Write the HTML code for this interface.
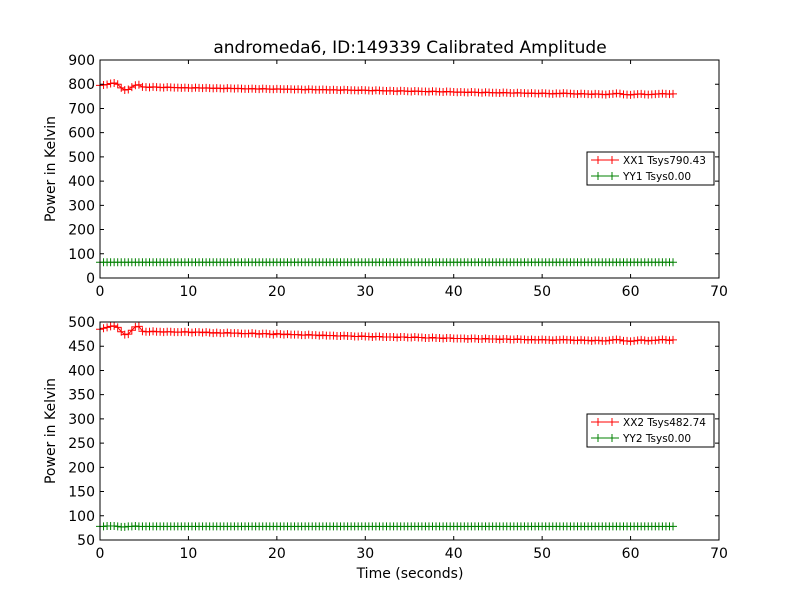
<!DOCTYPE html>
<html><head><meta charset="utf-8"><style>
body{margin:0;background:#fff}
svg text{font-family:"DejaVu Sans","Liberation Sans",sans-serif}
</style></head><body>
<svg id="c" width="800" height="600" xmlns="http://www.w3.org/2000/svg"></svg>
<script>
const xx1=[795,797,799,803,805,800,785,776,778,788,796,798,
789,788,787,789,788,787,786,788,787,786,
786,785,786,785,784,786,785,784,785,784,
783,784,783,782,784,783,782,783,782,781,
781,782,781,780,782,781,780,779,781,780,
779,780,779,778,779,778,777,779,778,777,
777,778,777,776,777,776,775,777,776,775,
775,774,776,775,774,773,775,774,773,772,
773,772,771,773,772,771,770,772,771,770,
770,769,771,770,769,768,770,769,768,767,
768,767,766,768,767,766,765,767,766,765,
765,764,766,765,764,763,765,764,763,762,
763,762,761,763,762,761,760,762,761,763,
762,761,760,759,761,760,759,758,760,759,
758,757,759,760,762,761,758,757,756,758,
759,760,758,757,758,759,760,761,760,759,
760];
const yy1=[65,65,65,65,65,65,65,65,65,65,
65,65,65,65,65,65,65,65,65,65,
65,65,65,65,65,65,65,65,65,65,
65,65,65,65,65,65,65,65,65,65,
65,65,65,65,65,65,65,65,65,65,
65,65,65,65,65,65,65,65,65,65,
65,65,65,65,65,65,65,65,65,65,
65,65,65,65,65,65,65,65,65,65,
65,65,65,65,65,65,65,65,65,65,
65,65,65,65,65,65,65,65,65,65,
65,65,65,65,65,65,65,65,65,65,
65,65,65,65,65,65,65,65,65,65,
65,65,65,65,65,65,65,65,65,65,
65,65,65,65,65,65,65,65,65,65,
65,65,65,65,65,65,65,65,65,65,
65,65,65,65,65,65,65,65,65,65,
65,65,65];
const xx2=[485,487,489,491,492,489,480,474,475,483,490,491,
481,480,480,481,480,480,479,480,480,479,
479,479,480,479,478,479,479,478,479,478,
477,478,477,477,478,477,477,477,476,476,
476,477,476,475,476,476,475,474,476,475,
474,475,474,474,474,473,473,474,473,473,
472,473,472,472,472,471,471,472,471,471,
470,470,471,470,470,469,470,470,469,469,
469,469,468,469,469,468,468,469,468,468,
467,467,468,467,467,466,467,467,466,466,
466,466,465,466,466,465,465,466,465,465,
465,464,465,465,464,464,465,464,464,463,
464,463,463,464,463,463,462,463,463,464,
463,463,462,462,463,462,462,461,462,462,
461,461,462,463,464,463,461,461,460,461,
462,463,462,461,462,462,463,464,463,462,
463];
const yy2=[78,78,79,79,79,78,77,77,78,78,
79,78,78,78,78,78,78,78,78,78,
78,78,78,78,78,78,78,78,78,78,
78,78,78,78,78,78,78,78,78,78,
78,78,78,78,78,78,78,78,78,78,
78,78,78,78,78,78,78,78,78,78,
78,78,78,78,78,78,78,78,78,78,
78,78,78,78,78,78,78,78,78,78,
78,78,78,78,78,78,78,78,78,78,
78,78,78,78,78,78,78,78,78,78,
78,78,78,78,78,78,78,78,78,78,
78,78,78,78,78,78,78,78,78,78,
78,78,78,78,78,78,78,78,78,78,
78,78,78,78,78,78,78,78,78,78,
78,78,78,78,78,78,78,78,78,78,
78,78,78,78,78,78,78,78,78,78,
78,78,78];
const xTicks=[0,10,20,30,40,50,60,70];
const yTicksTop=[0,100,200,300,400,500,600,700,800,900];
const yTicksBot=[50,100,150,200,250,300,350,400,450,500];
const dt=0.4;
const svg=document.getElementById('c');
const NS='http://www.w3.org/2000/svg';
function el(t,a,p){const e=document.createElementNS(NS,t);for(const k in a)e.setAttribute(k,a[k]);(p||svg).appendChild(e);return e;}
function panel(name,top,bot,ymin,ymax,yTicks,series,legY){
  const L=100,R=719;
  const g=el('g',{});
  
  
  const X=v=>L+(v-0)/70*(R-L);
  const Y=v=>bot-(v-ymin)/(ymax-ymin)*(bot-top);
  series.forEach(s=>{
    const sg=el('g',{},g);
    
    
    const pts=s.data.map((v,i)=>X(i*dt).toFixed(2)+','+Y(v).toFixed(2)).join(' ');
    el('polyline',{points:pts,fill:'none',stroke:s.color,'stroke-width':1},sg);
    let d='';
    s.data.forEach((v,i)=>{const x=X(i*dt),y=Y(v);d+=`M${x-4},${y}h8M${x},${y-4}v8`;});
    el('path',{d:d,stroke:s.color,'stroke-width':1,fill:'none'},sg);
  });
  el('rect',{x:L,y:top,width:R-L,height:bot-top,fill:'none',stroke:'#000','stroke-width':1},g);
  xTicks.forEach(t=>{
    const x=X(t);
    el('path',{d:`M${x},${bot}v-4M${x},${top}v4`,stroke:'#000'},g);
    const tx=el('text',{x:x,y:bot+18,'font-size':14,'text-anchor':'middle'},g);
    tx.textContent=t;
    
    
  });
  yTicks.forEach(t=>{
    const y=Y(t);
    el('path',{d:`M${L},${y}h4M${R},${y}h-4`,stroke:'#000'},g);
    const tx=el('text',{x:L-5,y:y+5,'font-size':14,'text-anchor':'end'},g);
    tx.textContent=t;
    
    
  });
  const yl=el('text',{x:0,y:0,'font-size':14,'text-anchor':'middle',transform:`translate(55,${(top+bot)/2}) rotate(-90)`},g);
  yl.textContent='Power in Kelvin';
  
  
  const lg=el('g',{},g);
  
  
  el('rect',{x:587,y:legY,width:127,height:33,fill:'#fff',stroke:'#000'},lg);
  series.forEach((s,i)=>{
    const y=legY+8+i*16;
    el('path',{d:`M591,${y}h28M598,${y-4}v8M612,${y-4}v8`,stroke:s.color},lg);
    const tx=el('text',{x:623,y:y+4,'font-size':10.5},lg);
    tx.textContent=s.label;
    
    
  });
}
panel('top-panel',60,278,0,900,yTicksTop,[{name:'series-xx1',data:xx1,color:'#ff0000',label:'XX1 Tsys790.43'},{name:'series-yy1',data:yy1,color:'#008000',label:'YY1 Tsys0.00'}],152);
panel('bottom-panel',322,540,50,500,yTicksBot,[{name:'series-xx2',data:xx2,color:'#ff0000',label:'XX2 Tsys482.74'},{name:'series-yy2',data:yy2,color:'#008000',label:'YY2 Tsys0.00'}],414);
const ti=el('text',{x:410,y:53,'font-size':17,'text-anchor':'middle'});
ti.textContent='andromeda6, ID:149339 Calibrated Amplitude';


const xl=el('text',{x:410,y:578,'font-size':14,'text-anchor':'middle'});
xl.textContent='Time (seconds)';


</script>
</body></html>
